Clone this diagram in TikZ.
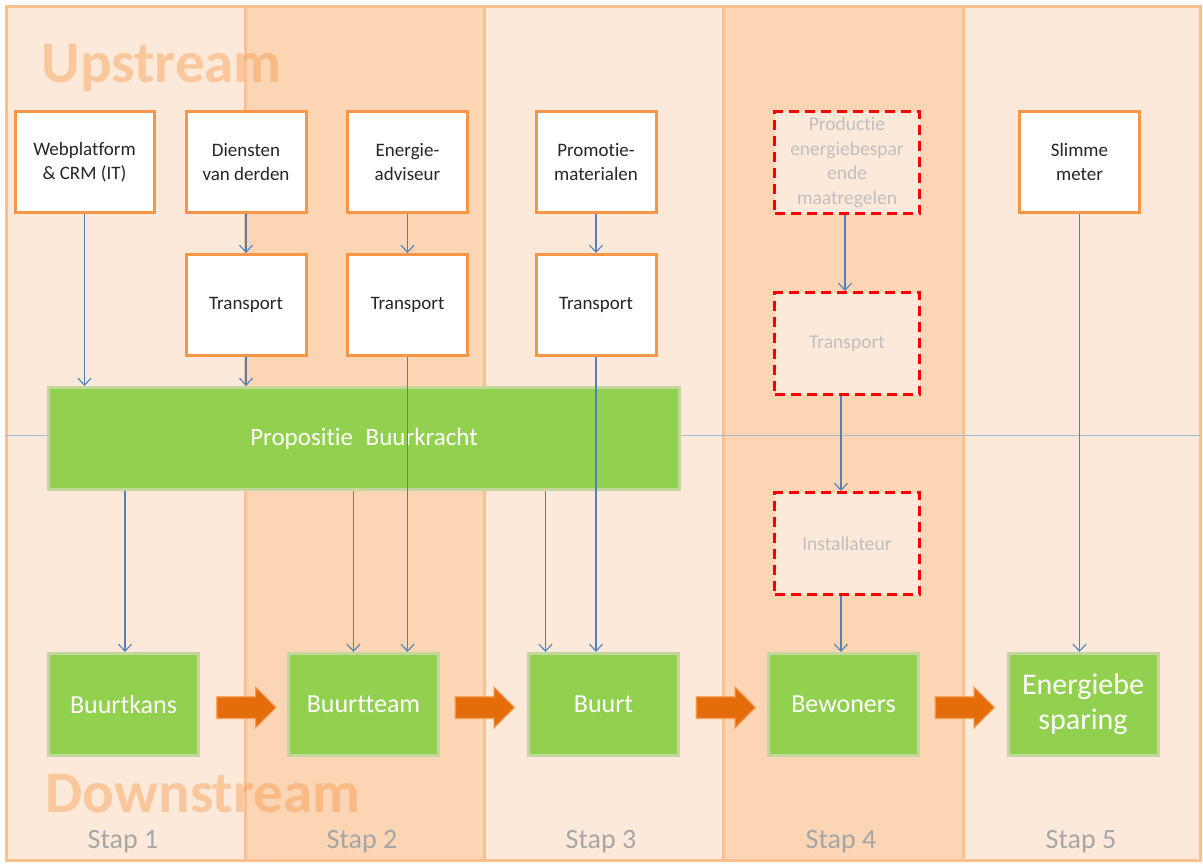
\documentclass[tikz,border=0pt]{standalone}
\usepackage{fontspec}
\setmainfont{Carlito}[Ligatures={NoCommon,NoRequired,NoContextual,NoDiscretionary}]
\usetikzlibrary{shapes.arrows,arrows.meta}
\definecolor{lightbg}{HTML}{FDE9D9}
\definecolor{darkbg}{HTML}{FCD5B5}
\definecolor{colline}{HTML}{FAC090}
\definecolor{boxorange}{HTML}{F79646}
\definecolor{bgreen}{HTML}{92D050}
\definecolor{gborder}{HTML}{C3D69B}
\definecolor{ablue}{HTML}{4F81BD}
\definecolor{arrorange}{HTML}{E46C0A}
\definecolor{staptext}{HTML}{A6A6A6}
\definecolor{ghosttext}{HTML}{BFBFBF}
\definecolor{divcolor}{HTML}{A6B8D2}
\tikzset{
  colrect/.style={draw=colline, line width=3pt},
  upbox/.style={draw=boxorange, line width=3pt, fill=white, minimum height=101pt,
    align=center, inner sep=2pt, text=black!85, font=\fontsize{19}{23.5}\selectfont},
  ghostbox/.style={draw=red, dash pattern=on 10pt off 6pt, line width=3pt, fill=lightbg,
    minimum width=145pt, minimum height=102pt, align=center, inner sep=1pt,
    text=ghosttext, font=\fontsize{19.5}{24.5}\selectfont},
  greenbox/.style={draw=gborder, line width=3pt, fill=bgreen, text=white,
    minimum width=150pt, minimum height=102pt, align=center,
    font=\fontsize{26}{30}\selectfont},
  conn/.style={draw=ablue, line width=1.2pt, -{Straight Barb[length=7pt,width=13pt,line width=1.1pt]}},
  blockarr/.style={single arrow, fill=arrorange, draw=boxorange, draw opacity=0.7, line width=1.5pt,
    minimum height=59pt, minimum width=39pt, single arrow head extend=9.5pt,
    single arrow tip angle=90, inner xsep=0pt, inner ysep=10pt},
  staplabel/.style={text=staptext, font=\fontsize{28}{32}\selectfont, anchor=base},
  streamlabel/.style={text=boxorange, text opacity=0.42, anchor=base west,
    font=\fontsize{59}{64}\bfseries\selectfont}
}
\begin{document}
\begin{tikzpicture}[x=1pt,y=-1pt]
\useasboundingbox (0,0) rectangle (1203,863);
% columns
\fill[lightbg] (6,6) rectangle (245,860);
\fill[darkbg] (245,6) rectangle (484,860);
\fill[lightbg] (484,6) rectangle (723,860);
\fill[darkbg] (723,6) rectangle (963,860);
\fill[lightbg] (963,6) rectangle (1200,860);
\draw[colrect] (6,6) rectangle (245,860);
\draw[colrect] (245,6) rectangle (484,860);
\draw[colrect] (484,6) rectangle (723,860);
\draw[colrect] (723,6) rectangle (963,860);
\draw[colrect] (963,6) rectangle (1200,860);
% divider
\draw[draw=divcolor, line width=1.2pt] (6,435.5) -- (1200,435.5);
% stream labels
\node[streamlabel] (up) at (38,82) {Upstream};
\node[streamlabel] (down) at (42,812) {Downstream};
% upstream boxes
\node[upbox, minimum width=139pt] (web) at (84.5,162) {Webplatform\\\& CRM (IT)};
\node[upbox, minimum width=120pt] (dien) at (246,162) {Diensten\\van derden};
\node[upbox, minimum width=120pt] (adv) at (407.5,162) {Energie-\\adviseur};
\node[upbox, minimum width=120pt] (prom) at (596,162) {Promotie-\\materialen};
\node[upbox, minimum width=120pt] (slim) at (1079.5,162) {Slimme\\meter};
\node[upbox, minimum width=120pt] (t1) at (246,305) {Transport};
\node[upbox, minimum width=120pt] (t2) at (407.5,305) {Transport};
\node[upbox, minimum width=120pt] (t3) at (596,305) {Transport};
% ghost boxes
\node[ghostbox] (prod) at (847,162.5) {Product\kern0pt ie\\energiebespar\\ende\\maatregelen};
\node[ghostbox] (gt) at (847,343.5) {Transport};
\node[ghostbox] (inst) at (847,543.5) {Installateur};
% green boxes
\node[greenbox, minimum width=631pt, font=\fontsize{25}{30}\selectfont] (prop) at (364,438.5) {Proposit\kern0pt ie\hspace{7pt} Buurkracht};
\node[greenbox] (bk) at (123.5,704.5) {Buurtkans};
\node[greenbox] (bt) at (363.5,704.5) {Buurtteam};
\node[greenbox] (bu) at (603.5,704.5) {Buurt};
\node[greenbox] (bw) at (843.5,704.5) {Bewoners};
\node[greenbox, font=\fontsize{30}{35}\selectfont] (eb) at (1083,704.5) {Energiebe\\sparing};
% connectors
\draw[conn] (web.south) -- (web.south |- prop.north);
\draw[conn] (dien.south) -- (t1.north);
\draw[conn] (t1.south) -- (t1.south |- prop.north);
\draw[conn] (adv.south) -- (t2.north);
\draw[conn] (t2.south) -- (t2.south |- bt.north);
\draw[conn] (prom.south) -- (t3.north);
\draw[conn] (t3.south) -- (t3.south |- bu.north);
\draw[conn] ([xshift=1.5pt]bk.north |- prop.south) -- ([xshift=1.5pt]bk.north);
\draw[conn] ([xshift=-10pt]bt.north |- prop.south) -- ([xshift=-10pt]bt.north);
\draw[conn] ([xshift=-58pt]bu.north |- prop.south) -- ([xshift=-58pt]bu.north);
\draw[conn] ([xshift=-2pt]prod.south) -- ([xshift=-2pt]gt.north);
\draw[conn] ([xshift=-6pt]gt.south) -- ([xshift=-6pt]inst.north);
\draw[conn] ([xshift=-6pt]inst.south) -- ([xshift=-6pt]inst.south |- bw.north);
\draw[conn] (slim.south) -- (slim.south |- eb.north);
% block arrows
\node[blockarr] (a1) at (241,707.5) {};
\node[blockarr] (a2) at (479.5,707.5) {};
\node[blockarr] (a3) at (720.5,707.5) {};
\node[blockarr] (a4) at (959.5,707.5) {};
% stap labels
\node[staplabel] (s1) at (123,848) {Stap 1};
\node[staplabel] (s2) at (362,848) {Stap 2};
\node[staplabel] (s3) at (601,848) {Stap 3};
\node[staplabel] (s4) at (841,848) {Stap 4};
\node[staplabel] (s5) at (1081,848) {Stap 5};
\end{tikzpicture}
\end{document}
